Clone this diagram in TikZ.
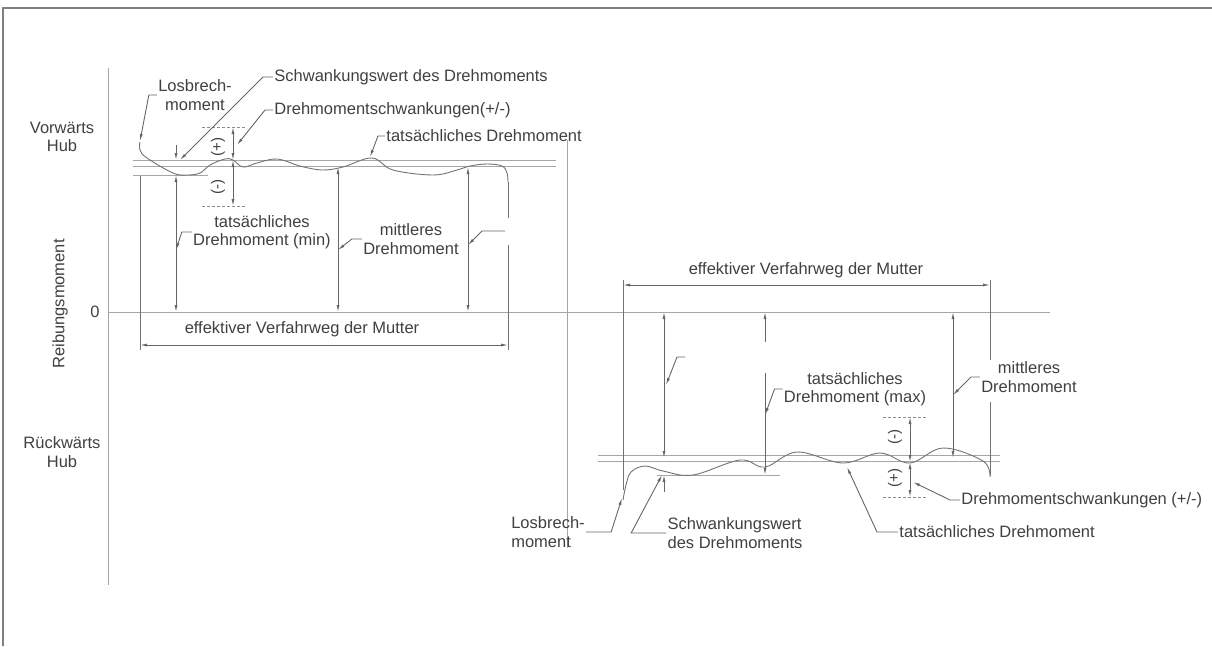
\documentclass[tikz,border=0pt]{standalone}
\usepackage{fontspec}
\setmainfont{Liberation Sans}
\usetikzlibrary{arrows.meta}

\begin{document}
\begin{tikzpicture}[x=1pt,y=-1pt,line width=0.9pt,
                    txt/.style={font=\fontsize{16.5}{18.5}\selectfont,text=black!75,inner sep=1pt,align=center},
                    sgn/.style={font=\fontsize{15}{17}\selectfont,text=black!75,inner sep=0pt,rotate=90},
                    ln/.style={draw=black!55},
                    axis/.style={draw=black!35},
                    lead/.style={draw=black!60,-{Latex[length=7pt,width=3pt]}},
                    dim/.style={draw=black!60,{Latex[length=7pt,width=3pt]}-{Latex[length=7pt,width=3pt]}},
                    dash line/.style={draw=black!45,dashed,dash pattern=on 3pt off 2pt}]
  \useasboundingbox (0,0) rectangle (1212,646);
  % frame
  \draw[black!50,line width=2.4pt] (3,646) -- (3,8) -- (1212,8);

  % axes
  \draw[axis] (108,68) -- (108,585);
  \draw[axis] (108,312) -- (1050,312);
  \draw[axis] (567,140) -- (567,548);
  \node[txt] (vor) at (62,137) {Vorwärts\\Hub};
  \node[txt] (rueck) at (62,452) {Rückwärts\\Hub};
  \node[txt,rotate=90] (reib) at (60,304) {Reibungsmoment};
  \node[txt] (null) at (95,312) {0};

  % Vorwaerts Hub
  \draw[axis] (133,160) -- (556,160);
  \draw[axis] (133,166) -- (556,166);
  \draw[axis] (133,175) -- (208,175);
  \draw[ln] plot[smooth,tension=0.6] coordinates {(140,142) (140,150) (147,158) (173,173) (187,175)
      (200,173) (210,165) (225,159) (233,160) (243,167) (257,163) (277,159) (300,166) (322,170)
      (343,167) (372,158) (393,170) (433,175) (457,170) (470,166) (487,164) (502,166) (507,173) (508,182)};
  \draw[ln] (140,176) -- (140,350);
  \draw[ln] (508,182) -- (508,218) (508,245) -- (508,350);
  \draw[dim] (140,345) -- (508,345);
  \node[txt] (effA) at (302,329) {effektiver Verfahrweg der Mutter};
  \draw[dim] (176,175) -- (176,312);
  \draw[lead] (176,145) -- (176,160);
  \draw[dash line] (202,127) -- (245,127) (202,206) -- (245,206);
  \draw[dim] (233,127) -- (233,160);
  \draw[dim] (233,160) -- (233,206);
  \node[sgn] (plusA) at (218,147) {(+)};
  \node[sgn] (minusA) at (218,187) {(-)};
  \draw[dim] (338,167) -- (338,312);
  \draw[dim] (468,167) -- (468,312);

  \node[txt] (losA) at (195,95) {Losbrech-\\moment};
  \node[txt,anchor=west] (schwA) at (273,77) {Schwankungswert des Drehmoments};
  \node[txt,anchor=west] (drehA) at (273,110) {Drehmomentschwankungen(+/-)};
  \node[txt,anchor=west] (tatsA) at (385,136) {tatsächliches Drehmoment};
  \node[txt] (minA) at (262,232) {tatsächliches\\Drehmoment (min)};
  \node[txt] (mitA) at (411,239) {mittleres\\Drehmoment};
  \coordinate (losTip) at (140,141);
  \coordinate (schwTip) at (180,160);
  \coordinate (drehTip) at (237,145);
  \coordinate (tatsTip) at (370,157);
  \coordinate (minTip) at (176,250);
  \coordinate (mitTip) at (338,250);
  \coordinate (mitEnd) at (505,231);
  \coordinate (mitTip2) at (468,245);
  \draw[lead] (losA.west) -- ++(-8,0) -- (losTip);
  \draw[lead] (schwA.west) -- ++(-10,0) -- (schwTip);
  \draw[lead] (drehA.west) -- ++(-8,0) -- (drehTip);
  \draw[lead] (tatsA.west) -- ++(-7,0) -- (tatsTip);
  \draw[lead] (minA.west) -- ++(-10,0) -- (minTip);
  \draw[lead] (mitA.west) -- ++(-10,0) -- (mitTip);
  \draw[lead] (mitEnd) -- ++(-23,0) -- (mitTip2);

  % Rueckwaerts Hub
  \draw[axis] (598,455) -- (1000,455);
  \draw[axis] (598,461) -- (1000,461);
  \draw[axis] (657,475) -- (780,475);
  \draw[ln] plot[smooth,tension=0.6] coordinates {(623,500) (626,485) (631,472) (645,466) (663,471)
      (693,475) (740,460) (765,467) (797,452) (843,463) (880,453) (910,463) (943,448) (983,461) (990,477)};
  \draw[ln] (623,280) -- (623,490);
  \draw[ln] (990,280) -- (990,360) (990,402) -- (990,476);
  \draw[dim] (623,285) -- (990,285);
  \node[txt] (effB) at (806,270) {effektiver Verfahrweg der Mutter};
  \draw[dim] (664,312) -- (664,458);
  \draw[lead] (664,492) -- (664,475);
  \draw[lead] (765,342) -- (765,312);
  \draw[lead] (765,373) -- (765,475);
  \draw[dim] (953,312) -- (953,458);
  \draw[dash line] (883,417) -- (927,417) (883,497) -- (927,497);
  \draw[dim] (910,417) -- (910,462);
  \draw[dim] (910,462) -- (910,497);
  \node[sgn] (minusB) at (895,437) {(-)};
  \node[sgn] (plusB) at (895,478) {(+)};

  \node[txt] (tatsmaxB) at (855,389) {tatsächliches\\Drehmoment (max)};
  \node[txt] (mitB) at (1029,377) {mittleres\\Drehmoment};
  \node[txt,anchor=west] (drehB) at (960,500) {Drehmomentschwankungen (+/-)};
  \node[txt,anchor=west] (tatsB) at (898,532) {tatsächliches Drehmoment};
  \node[txt,align=left] (losB) at (548,532) {Losbrech-\\moment};
  \node[txt,align=left] (schwB) at (735,533) {Schwankungswert\\des Drehmoments};
  \coordinate (emptyEnd) at (685,357);
  \coordinate (emptyTip) at (666,385);
  \coordinate (maxTip) at (765,415);
  \coordinate (mitBTip) at (953,395);
  \coordinate (drehBTip) at (913,482);
  \coordinate (tatsBTip) at (847,467);
  \coordinate (losBTip) at (622,498);
  \coordinate (schwBTip) at (662,475);
  \draw[lead] (emptyEnd) -- ++(-8,0) -- (emptyTip);
  \draw[lead] (tatsmaxB.west) -- ++(-8,0) -- (maxTip);
  \draw[lead] (mitB.west) -- ++(-9,0) -- (mitBTip);
  \draw[lead] (drehB.west) -- ++(-10,0) -- (drehBTip);
  \draw[lead] (tatsB.west) -- ++(-21,0) -- (tatsBTip);
  \draw[lead] (losB.east) -- ++(25,0) -- (losBTip);
  \draw[lead] (schwB.west) -- ++(-35,0) -- (schwBTip);
\end{tikzpicture}
\end{document}
